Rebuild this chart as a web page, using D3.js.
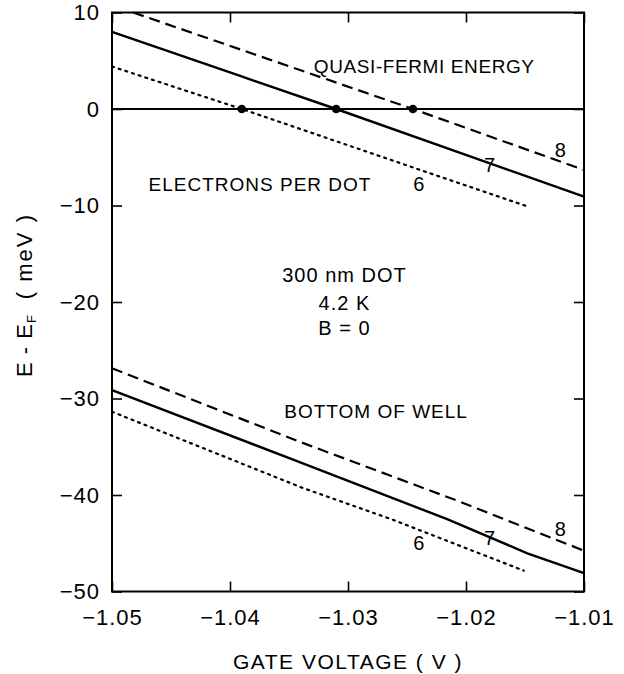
<!DOCTYPE html>
<html>
<head>
<meta charset="utf-8">
<script src="https://cdn.jsdelivr.net/npm/d3@7"></script>
<style>
  body { margin: 0; background: #fff; }
  svg { display: block; }
  text { font-family: "Liberation Sans", Arial, Helvetica, sans-serif; fill: #000; }
</style>
</head>
<body>
<svg id="chart" width="624" height="674"></svg>
<script>
// Axis ticks
const xTicks = [-1.05, -1.04, -1.03, -1.02, -1.01];
const yTicks = [10, 0, -10, -20, -30, -40, -50];

// Quasi-Fermi energy (meV) vs gate voltage (V), for 6, 7 and 8 electrons per dot
const fermi6 = [[-1.05, 4.4], [-1.039, 0], [-1.0232, -6.6], [-1.0149, -10.05]];
const fermi7 = [[-1.05, 8.0], [-1.0392, 3.45], [-1.031, 0], [-1.01, -9.09]];
const fermi8 = [[-1.0482, 10], [-1.0245, 0], [-1.01, -6.32]];

// Bottom of the well (meV) vs gate voltage (V)
const well6 = [[-1.05, -31.37], [-1.0339, -39.24], [-1.0263, -42.52], [-1.0151, -47.84]];
const well7 = [[-1.05, -29.12], [-1.0341, -36.6], [-1.0216, -42.5], [-1.0148, -46.04], [-1.01, -48.1]];
const well8 = [[-1.05, -26.87], [-1.0341, -34.48], [-1.0205, -40.7], [-1.01, -45.77]];

// Gate voltages where each quasi-Fermi level crosses E_F
const crossings = [-1.039, -1.031, -1.0245];

const svg = d3.select("#chart");
const margin = { left: 112, right: 40, top: 12.5, bottom: 82.5 };
const W = 624, H = 674;

const x = d3.scaleLinear().domain([-1.05, -1.01]).range([margin.left, W - margin.right]);
const y = d3.scaleLinear().domain([-50, 10]).range([H - margin.bottom, margin.top]);

const line = d3.line().x(d => x(d[0])).y(d => y(d[1]));

const styles = {
  dotted: { dash: "2,5", cap: "round", w: 2.2 },
  solid:  { dash: null, cap: "butt", w: 2.4 },
  dashed: { dash: "11,6", cap: "butt", w: 2.2 }
};

function drawCurve(data, st) {
  svg.append("path")
    .datum(data)
    .attr("d", line)
    .attr("fill", "none")
    .attr("stroke", "#000")
    .attr("stroke-width", st.w)
    .attr("stroke-linecap", st.cap)
    .attr("stroke-dasharray", st.dash);
}

// Zero reference line
svg.append("line")
  .attr("x1", x(-1.05)).attr("x2", x(-1.01))
  .attr("y1", y(0)).attr("y2", y(0))
  .attr("stroke", "#000").attr("stroke-width", 2);

drawCurve(fermi6, styles.dotted);
drawCurve(fermi7, styles.solid);
drawCurve(fermi8, styles.dashed);
drawCurve(well6, styles.dotted);
drawCurve(well7, styles.solid);
drawCurve(well8, styles.dashed);

svg.selectAll("circle.cross")
  .data(crossings)
  .join("circle")
  .attr("class", "cross")
  .attr("cx", d => x(d))
  .attr("cy", y(0))
  .attr("r", 4.3)
  .attr("fill", "#000");

// Axes with inward ticks on all four sides
const fmtX = d3.format(".2f");
const fmtY = d3.format("d");
const tickFont = g => g.selectAll("text")
  .style("font-size", "22px")
  .style("letter-spacing", "1px")
  .attr("fill", "#000");

svg.append("g")
  .attr("transform", `translate(0,${y(-50)})`)
  .call(d3.axisBottom(x).tickValues(xTicks).tickFormat(fmtX).tickSizeInner(-10).tickSizeOuter(0).tickPadding(18))
  .call(tickFont);

svg.append("g")
  .attr("transform", `translate(${x(-1.05)},0)`)
  .call(d3.axisLeft(y).tickValues(yTicks).tickFormat(fmtY).tickSizeInner(-10).tickSizeOuter(0).tickPadding(12))
  .call(tickFont);

svg.append("g")
  .attr("transform", `translate(0,${y(10)})`)
  .call(d3.axisTop(x).tickValues(xTicks).tickFormat("").tickSizeInner(-10).tickSizeOuter(0));

svg.append("g")
  .attr("transform", `translate(${x(-1.01)},0)`)
  .call(d3.axisRight(y).tickValues(yTicks).tickFormat("").tickSizeInner(-10).tickSizeOuter(0));

svg.selectAll(".domain").remove();
svg.selectAll(".tick line").attr("stroke", "#000").attr("stroke-width", 1.6);

// Frame
svg.append("rect")
  .attr("x", x(-1.05)).attr("y", y(10))
  .attr("width", x(-1.01) - x(-1.05))
  .attr("height", y(-50) - y(10))
  .attr("fill", "none")
  .attr("stroke", "#000")
  .attr("stroke-width", 2);

// Axis titles
svg.append("text")
  .attr("x", (x(-1.05) + x(-1.01)) / 2)
  .attr("y", 669)
  .attr("text-anchor", "middle")
  .style("font-size", "21px")
  .style("letter-spacing", "1.5px")
  .text("GATE VOLTAGE  ( V )");

const yt = svg.append("text")
  .attr("transform", "translate(32,377) rotate(-90)")
  .attr("text-anchor", "start")
  .style("font-size", "22px");
yt.append("tspan").style("letter-spacing", "1px").text("E - E");
yt.append("tspan").attr("baseline-shift", "-30%").style("font-size", "13px").text("F");
yt.append("tspan").attr("dx", 16).style("letter-spacing", "2px").text("( meV )");

// Annotations
const note = (t, vx, vy, anchor, size, ls) => svg.append("text")
  .attr("x", x(vx)).attr("y", y(vy))
  .attr("text-anchor", anchor || "start")
  .style("font-size", (size || 19) + "px")
  .style("letter-spacing", (ls === undefined ? 1 : ls) + "px")
  .text(t);

note("QUASI-FERMI ENERGY", -1.0329, 3.7, "start", 19, 0.6);
note("ELECTRONS PER DOT", -1.0469, -8.5);
note("300 nm DOT", -1.0303, -17.9, "middle", 20);
note("4.2 K", -1.0303, -20.8, "middle", 20);
note("B = 0", -1.0303, -23.4, "middle", 20);
note("BOTTOM OF WELL", -1.0354, -32.0);

// Electron-count labels beside each curve
note("6", -1.024, -8.45, "middle", 20, 0);
note("7", -1.018, -6.5, "middle", 20, 0);
note("8", -1.012, -4.95, "middle", 20, 0);
note("6", -1.024, -45.75, "middle", 20, 0);
note("7", -1.018, -45.2, "middle", 20, 0);
note("8", -1.012, -44.2, "middle", 20, 0);
</script>
</body>
</html>
